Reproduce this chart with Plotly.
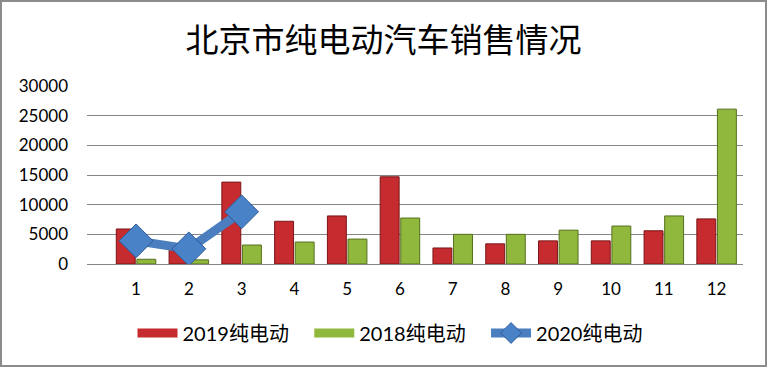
import plotly.graph_objects as go

months = ["1", "2", "3", "4", "5", "6", "7", "8", "9", "10", "11", "12"]
sales_2019 = [5900, 2500, 13800, 7200, 8100, 14700, 2700, 3400, 3900, 3900, 5600, 7600]
sales_2018 = [800, 700, 3200, 3700, 4200, 7750, 5000, 5000, 5700, 6400, 8100, 26100]
months_2020 = ["1", "2", "3"]
sales_2020 = [3900, 2550, 8800]
y_ticks = [0, 5000, 10000, 15000, 20000, 25000, 30000]
y_tick_labels = ["0", "5000", "10000", "15000", "20000", "25000", "30000"]

W, H = 767, 367
L, R, T, B = 87, 24, 86, 103
pw, ph = W - L - R, H - T - B

RED, RED_D = "#C52B2F", "#7A1518"
GRN, GRN_D = "#90B83C", "#55701F"
PAD = "\u00a0\u00a0\u00a0"

fig = go.Figure()
fig.add_trace(go.Bar(x=months, y=sales_2019, name="2019纯电动", legendgroup="a", showlegend=False,
                     marker=dict(color=RED, line=dict(color=RED_D, width=1))))
fig.add_trace(go.Bar(x=months, y=sales_2018, name="2018纯电动", legendgroup="b", showlegend=False,
                     marker=dict(color=GRN, line=dict(color=GRN_D, width=1))))
# legend-only entries with wide rectangular swatches
fig.add_trace(go.Scatter(x=[None], y=[None], name="2019纯电动" + PAD, legendgroup="a", mode="lines",
                         line=dict(color=RED, width=9)))
fig.add_trace(go.Scatter(x=[None], y=[None], name="2018纯电动" + PAD, legendgroup="b", mode="lines",
                         line=dict(color=GRN, width=9)))
fig.add_trace(go.Scatter(x=months_2020, y=sales_2020, name="2020纯电动", mode="lines+markers",
                         line=dict(color="#4A7EBF", width=9),
                         marker=dict(symbol="diamond", size=26, color="#4A82C8",
                                     line=dict(color="#2D5C97", width=1))))

def px(x):
    return (x - L) / pw
def py(y):
    return (H - B - y) / ph

fig.update_layout(
    width=W, height=H,
    margin=dict(l=L, r=R, t=T, b=B, autoexpand=False),
    paper_bgcolor="white", plot_bgcolor="white",
    barmode="group", bargap=0.22, bargroupgap=0.08,
    title=dict(text="北京市纯电动汽车销售情况", x=0.5, xanchor="center", y=1 - 40 / H, yanchor="middle",
               font=dict(family="Noto Sans CJK SC", size=33, color="#000000")),
    font=dict(family="Lato, Noto Sans CJK SC", color="#000000"),
    legend=dict(orientation="h", x=px(390), xanchor="center", y=py(333), yanchor="middle",
                font=dict(family="Lato, Noto Sans CJK SC", size=20, color="#000000"),
                itemwidth=40, traceorder="normal", itemclick=False, itemdoubleclick=False),
    showlegend=True,
    shapes=[dict(type="rect", xref="paper", yref="paper",
                 x0=px(1), x1=px(W - 1), y0=py(H - 1), y1=py(1),
                 line=dict(color="#8C8C8C", width=2), layer="below")],
)
fig.update_xaxes(showgrid=False, showline=True, linecolor="#868686", linewidth=1,
                 tickfont=dict(size=17, family="Lato"), ticks="", ticklen=0, ticklabelstandoff=10)
fig.update_yaxes(range=[0, 30000], tickvals=y_ticks, ticktext=y_tick_labels,
                 showgrid=True, gridcolor="#868686", gridwidth=1,
                 zeroline=False, showline=False, tickfont=dict(size=17, family="Lato"),
                 ticks="", ticklabelstandoff=18)

fig.write_html("out.html", config={"displayModeBar": False},
               post_script="document.body.style.margin='0';document.body.style.overflow='hidden';")
